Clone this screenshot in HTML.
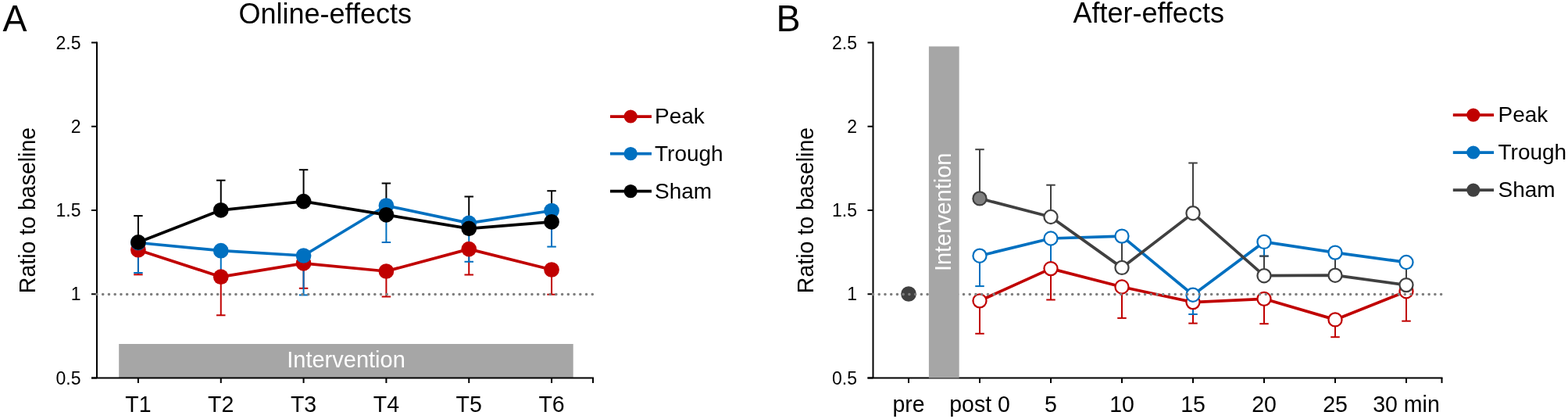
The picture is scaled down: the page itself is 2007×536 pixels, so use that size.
<!DOCTYPE html>
<html><head><meta charset="utf-8"><title>Online-effects and After-effects</title>
<style>html,body{margin:0;padding:0;background:#fff;}svg{display:block;}</style></head>
<body><svg width="2007" height="536" viewBox="0 0 2007 536" font-family="Liberation Sans, Arial, sans-serif" fill="#000">
<text transform="translate(3.5,39.6) scale(1,1.03)" font-size="46.5">A</text>
<text x="416.2" y="29.6" font-size="36" text-anchor="middle">Online-effects</text>
<rect x="152.2" y="440" width="581.5" height="43.5" fill="#A6A6A6"/>
<text x="443" y="469.7" font-size="29" text-anchor="middle" fill="#fff">Intervention</text>
<line x1="124.0" y1="53.5" x2="124.0" y2="483.5" stroke="#000" stroke-width="2.0"/>
<line x1="117.0" y1="483.5" x2="760.0" y2="483.5" stroke="#000" stroke-width="2.0"/>
<line x1="117.0" y1="483.50" x2="124.0" y2="483.50" stroke="#000" stroke-width="2.0"/>
<text x="103.5" y="491.73" font-size="23" text-anchor="end">0.5</text>
<line x1="117.0" y1="376.25" x2="124.0" y2="376.25" stroke="#000" stroke-width="2.0"/>
<text x="103.5" y="384.48" font-size="23" text-anchor="end">1</text>
<line x1="117.0" y1="269.00" x2="124.0" y2="269.00" stroke="#000" stroke-width="2.0"/>
<text x="103.5" y="277.23" font-size="23" text-anchor="end">1.5</text>
<line x1="117.0" y1="161.75" x2="124.0" y2="161.75" stroke="#000" stroke-width="2.0"/>
<text x="103.5" y="169.98" font-size="23" text-anchor="end">2</text>
<line x1="117.0" y1="54.50" x2="124.0" y2="54.50" stroke="#000" stroke-width="2.0"/>
<text x="103.5" y="62.73" font-size="23" text-anchor="end">2.5</text>
<line x1="176.91" y1="483.5" x2="176.91" y2="490.0" stroke="#000" stroke-width="2.0"/>
<line x1="282.75" y1="483.5" x2="282.75" y2="490.0" stroke="#000" stroke-width="2.0"/>
<line x1="388.57" y1="483.5" x2="388.57" y2="490.0" stroke="#000" stroke-width="2.0"/>
<line x1="494.40" y1="483.5" x2="494.40" y2="490.0" stroke="#000" stroke-width="2.0"/>
<line x1="600.24" y1="483.5" x2="600.24" y2="490.0" stroke="#000" stroke-width="2.0"/>
<line x1="706.06" y1="483.5" x2="706.06" y2="490.0" stroke="#000" stroke-width="2.0"/>
<line x1="759.0" y1="483.5" x2="759.0" y2="490.0" stroke="#000" stroke-width="2.0"/>
<text transform="translate(176.91,526.6) scale(1,1.05)" font-size="28.5" text-anchor="middle">T1</text>
<text transform="translate(282.75,526.6) scale(1,1.05)" font-size="28.5" text-anchor="middle">T2</text>
<text transform="translate(388.57,526.6) scale(1,1.05)" font-size="28.5" text-anchor="middle">T3</text>
<text transform="translate(494.40,526.6) scale(1,1.05)" font-size="28.5" text-anchor="middle">T4</text>
<text transform="translate(600.24,526.6) scale(1,1.05)" font-size="28.5" text-anchor="middle">T5</text>
<text transform="translate(706.06,526.6) scale(1,1.05)" font-size="28.5" text-anchor="middle">T6</text>
<text transform="translate(44.6,269.0) rotate(-90) scale(1,1.05)" x="0" y="0" font-size="28.5" text-anchor="middle">Ratio to baseline</text>
<line x1="176.91" y1="319.70" x2="176.91" y2="351.30" stroke="#C00000" stroke-width="2.0"/>
<line x1="171.16" y1="351.30" x2="182.66" y2="351.30" stroke="#C00000" stroke-width="2.0"/>
<line x1="282.75" y1="354.20" x2="282.75" y2="403.30" stroke="#C00000" stroke-width="2.0"/>
<line x1="277.00" y1="403.30" x2="288.50" y2="403.30" stroke="#C00000" stroke-width="2.0"/>
<line x1="388.57" y1="336.80" x2="388.57" y2="368.80" stroke="#C00000" stroke-width="2.0"/>
<line x1="382.82" y1="368.80" x2="394.32" y2="368.80" stroke="#C00000" stroke-width="2.0"/>
<line x1="494.40" y1="347.00" x2="494.40" y2="379.50" stroke="#C00000" stroke-width="2.0"/>
<line x1="488.65" y1="379.50" x2="500.15" y2="379.50" stroke="#C00000" stroke-width="2.0"/>
<line x1="600.24" y1="318.60" x2="600.24" y2="351.50" stroke="#C00000" stroke-width="2.0"/>
<line x1="594.49" y1="351.50" x2="605.99" y2="351.50" stroke="#C00000" stroke-width="2.0"/>
<line x1="706.06" y1="345.00" x2="706.06" y2="376.70" stroke="#C00000" stroke-width="2.0"/>
<line x1="700.31" y1="376.70" x2="711.81" y2="376.70" stroke="#C00000" stroke-width="2.0"/>
<line x1="176.91" y1="310.50" x2="176.91" y2="349.00" stroke="#0070C0" stroke-width="2.0"/>
<line x1="171.16" y1="349.00" x2="182.66" y2="349.00" stroke="#0070C0" stroke-width="2.0"/>
<line x1="282.75" y1="320.70" x2="282.75" y2="352.00" stroke="#0070C0" stroke-width="2.0"/>
<line x1="277.00" y1="352.00" x2="288.50" y2="352.00" stroke="#0070C0" stroke-width="2.0"/>
<line x1="388.57" y1="327.00" x2="388.57" y2="377.40" stroke="#0070C0" stroke-width="2.0"/>
<line x1="382.82" y1="377.40" x2="394.32" y2="377.40" stroke="#0070C0" stroke-width="2.0"/>
<line x1="494.40" y1="263.00" x2="494.40" y2="310.00" stroke="#0070C0" stroke-width="2.0"/>
<line x1="488.65" y1="310.00" x2="500.15" y2="310.00" stroke="#0070C0" stroke-width="2.0"/>
<line x1="600.24" y1="285.40" x2="600.24" y2="334.80" stroke="#0070C0" stroke-width="2.0"/>
<line x1="594.49" y1="334.80" x2="605.99" y2="334.80" stroke="#0070C0" stroke-width="2.0"/>
<line x1="706.06" y1="269.50" x2="706.06" y2="315.60" stroke="#0070C0" stroke-width="2.0"/>
<line x1="700.31" y1="315.60" x2="711.81" y2="315.60" stroke="#0070C0" stroke-width="2.0"/>
<line x1="176.91" y1="309.90" x2="176.91" y2="276.10" stroke="#000000" stroke-width="2.0"/>
<line x1="171.16" y1="276.10" x2="182.66" y2="276.10" stroke="#000000" stroke-width="2.0"/>
<line x1="282.75" y1="268.80" x2="282.75" y2="230.70" stroke="#000000" stroke-width="2.0"/>
<line x1="277.00" y1="230.70" x2="288.50" y2="230.70" stroke="#000000" stroke-width="2.0"/>
<line x1="388.57" y1="257.60" x2="388.57" y2="217.20" stroke="#000000" stroke-width="2.0"/>
<line x1="382.82" y1="217.20" x2="394.32" y2="217.20" stroke="#000000" stroke-width="2.0"/>
<line x1="494.40" y1="274.80" x2="494.40" y2="234.50" stroke="#000000" stroke-width="2.0"/>
<line x1="488.65" y1="234.50" x2="500.15" y2="234.50" stroke="#000000" stroke-width="2.0"/>
<line x1="600.24" y1="292.40" x2="600.24" y2="251.50" stroke="#000000" stroke-width="2.0"/>
<line x1="594.49" y1="251.50" x2="605.99" y2="251.50" stroke="#000000" stroke-width="2.0"/>
<line x1="706.06" y1="283.80" x2="706.06" y2="244.20" stroke="#000000" stroke-width="2.0"/>
<line x1="700.31" y1="244.20" x2="711.81" y2="244.20" stroke="#000000" stroke-width="2.0"/>
<polyline points="176.91,319.70 282.75,354.20 388.57,336.80 494.40,347.00 600.24,318.60 706.06,345.00" fill="none" stroke="#C00000" stroke-width="3.75" stroke-linejoin="round"/>
<polyline points="176.91,310.50 282.75,320.70 388.57,327.00 494.40,263.00 600.24,285.40 706.06,269.50" fill="none" stroke="#0070C0" stroke-width="3.75" stroke-linejoin="round"/>
<polyline points="176.91,309.90 282.75,268.80 388.57,257.60 494.40,274.80 600.24,292.40 706.06,283.80" fill="none" stroke="#000000" stroke-width="3.75" stroke-linejoin="round"/>
<circle cx="176.91" cy="319.70" r="9.85" fill="#C00000"/>
<circle cx="282.75" cy="354.20" r="9.85" fill="#C00000"/>
<circle cx="388.57" cy="336.80" r="9.85" fill="#C00000"/>
<circle cx="494.40" cy="347.00" r="9.85" fill="#C00000"/>
<circle cx="600.24" cy="318.60" r="9.85" fill="#C00000"/>
<circle cx="706.06" cy="345.00" r="9.85" fill="#C00000"/>
<circle cx="176.91" cy="310.50" r="9.85" fill="#0070C0"/>
<circle cx="282.75" cy="320.70" r="9.85" fill="#0070C0"/>
<circle cx="388.57" cy="327.00" r="9.85" fill="#0070C0"/>
<circle cx="494.40" cy="263.00" r="9.85" fill="#0070C0"/>
<circle cx="600.24" cy="285.40" r="9.85" fill="#0070C0"/>
<circle cx="706.06" cy="269.50" r="9.85" fill="#0070C0"/>
<circle cx="176.91" cy="309.90" r="9.85" fill="#000000"/>
<circle cx="282.75" cy="268.80" r="9.85" fill="#000000"/>
<circle cx="388.57" cy="257.60" r="9.85" fill="#000000"/>
<circle cx="494.40" cy="274.80" r="9.85" fill="#000000"/>
<circle cx="600.24" cy="292.40" r="9.85" fill="#000000"/>
<circle cx="706.06" cy="283.80" r="9.85" fill="#000000"/>
<line x1="124.0" y1="376.55" x2="759" y2="376.55" stroke="#7F7F7F" stroke-width="3.6" stroke-linecap="round" stroke-dasharray="0 7.735"/>
<line x1="781" y1="149.0" x2="834" y2="149.0" stroke="#C00000" stroke-width="3.75"/>
<circle cx="807.2" cy="149.0" r="8.6" fill="#C00000"/>
<text x="838.0" y="158.02" font-size="28">Peak</text>
<line x1="781" y1="196.7" x2="834" y2="196.7" stroke="#0070C0" stroke-width="3.75"/>
<circle cx="807.2" cy="196.7" r="8.6" fill="#0070C0"/>
<text x="838.0" y="205.72" font-size="28">Trough</text>
<line x1="781" y1="244.6" x2="834" y2="244.6" stroke="#000000" stroke-width="3.75"/>
<circle cx="807.2" cy="244.6" r="8.6" fill="#000000"/>
<text x="838.0" y="253.62" font-size="28">Sham</text>
<text transform="translate(993.6,40.0) scale(1,1.03)" font-size="46.5">B</text>
<text x="1470.2" y="29.4" font-size="36" text-anchor="middle">After-effects</text>
<line x1="1117.5" y1="53.5" x2="1117.5" y2="483.5" stroke="#000" stroke-width="2.0"/>
<line x1="1110.5" y1="483.5" x2="1846.5" y2="483.5" stroke="#000" stroke-width="2.0"/>
<line x1="1110.5" y1="483.50" x2="1117.5" y2="483.50" stroke="#000" stroke-width="2.0"/>
<text x="1097.0" y="491.73" font-size="23" text-anchor="end">0.5</text>
<line x1="1110.5" y1="376.25" x2="1117.5" y2="376.25" stroke="#000" stroke-width="2.0"/>
<text x="1097.0" y="384.48" font-size="23" text-anchor="end">1</text>
<line x1="1110.5" y1="269.00" x2="1117.5" y2="269.00" stroke="#000" stroke-width="2.0"/>
<text x="1097.0" y="277.23" font-size="23" text-anchor="end">1.5</text>
<line x1="1110.5" y1="161.75" x2="1117.5" y2="161.75" stroke="#000" stroke-width="2.0"/>
<text x="1097.0" y="169.98" font-size="23" text-anchor="end">2</text>
<line x1="1110.5" y1="54.50" x2="1117.5" y2="54.50" stroke="#000" stroke-width="2.0"/>
<text x="1097.0" y="62.73" font-size="23" text-anchor="end">2.5</text>
<line x1="1163.00" y1="483.5" x2="1163.00" y2="490.0" stroke="#000" stroke-width="2.0"/>
<line x1="1254.00" y1="483.5" x2="1254.00" y2="490.0" stroke="#000" stroke-width="2.0"/>
<line x1="1345.00" y1="483.5" x2="1345.00" y2="490.0" stroke="#000" stroke-width="2.0"/>
<line x1="1436.00" y1="483.5" x2="1436.00" y2="490.0" stroke="#000" stroke-width="2.0"/>
<line x1="1527.00" y1="483.5" x2="1527.00" y2="490.0" stroke="#000" stroke-width="2.0"/>
<line x1="1618.00" y1="483.5" x2="1618.00" y2="490.0" stroke="#000" stroke-width="2.0"/>
<line x1="1709.00" y1="483.5" x2="1709.00" y2="490.0" stroke="#000" stroke-width="2.0"/>
<line x1="1800.00" y1="483.5" x2="1800.00" y2="490.0" stroke="#000" stroke-width="2.0"/>
<line x1="1845.5" y1="483.5" x2="1845.5" y2="490.0" stroke="#000" stroke-width="2.0"/>
<text transform="translate(1163.00,526.6) scale(1,1.05)" font-size="28.5" text-anchor="middle">pre</text>
<text transform="translate(1254.00,526.6) scale(1,1.05)" font-size="28.5" text-anchor="middle">post 0</text>
<text transform="translate(1345.00,526.6) scale(1,1.05)" font-size="28.5" text-anchor="middle">5</text>
<text transform="translate(1436.00,526.6) scale(1,1.05)" font-size="28.5" text-anchor="middle">10</text>
<text transform="translate(1527.00,526.6) scale(1,1.05)" font-size="28.5" text-anchor="middle">15</text>
<text transform="translate(1618.00,526.6) scale(1,1.05)" font-size="28.5" text-anchor="middle">20</text>
<text transform="translate(1709.00,526.6) scale(1,1.05)" font-size="28.5" text-anchor="middle">25</text>
<text transform="translate(1800.00,526.6) scale(1,1.05)" font-size="28.5" text-anchor="middle">30 min</text>
<text transform="translate(1040.5,269.0) rotate(-90) scale(1,1.05)" x="0" y="0" font-size="28.5" text-anchor="middle">Ratio to baseline</text>
<line x1="1254.00" y1="384.80" x2="1254.00" y2="426.80" stroke="#C00000" stroke-width="2.0"/>
<line x1="1248.25" y1="426.80" x2="1259.75" y2="426.80" stroke="#C00000" stroke-width="2.0"/>
<line x1="1345.00" y1="343.60" x2="1345.00" y2="383.50" stroke="#C00000" stroke-width="2.0"/>
<line x1="1339.25" y1="383.50" x2="1350.75" y2="383.50" stroke="#C00000" stroke-width="2.0"/>
<line x1="1436.00" y1="367.00" x2="1436.00" y2="406.90" stroke="#C00000" stroke-width="2.0"/>
<line x1="1430.25" y1="406.90" x2="1441.75" y2="406.90" stroke="#C00000" stroke-width="2.0"/>
<line x1="1527.00" y1="386.60" x2="1527.00" y2="413.60" stroke="#C00000" stroke-width="2.0"/>
<line x1="1521.25" y1="413.60" x2="1532.75" y2="413.60" stroke="#C00000" stroke-width="2.0"/>
<line x1="1618.00" y1="382.30" x2="1618.00" y2="414.20" stroke="#C00000" stroke-width="2.0"/>
<line x1="1612.25" y1="414.20" x2="1623.75" y2="414.20" stroke="#C00000" stroke-width="2.0"/>
<line x1="1709.00" y1="408.90" x2="1709.00" y2="431.20" stroke="#C00000" stroke-width="2.0"/>
<line x1="1703.25" y1="431.20" x2="1714.75" y2="431.20" stroke="#C00000" stroke-width="2.0"/>
<line x1="1800.00" y1="372.70" x2="1800.00" y2="410.70" stroke="#C00000" stroke-width="2.0"/>
<line x1="1794.25" y1="410.70" x2="1805.75" y2="410.70" stroke="#C00000" stroke-width="2.0"/>
<line x1="1254.00" y1="327.20" x2="1254.00" y2="366.10" stroke="#0070C0" stroke-width="2.0"/>
<line x1="1248.25" y1="366.10" x2="1259.75" y2="366.10" stroke="#0070C0" stroke-width="2.0"/>
<line x1="1345.00" y1="305.00" x2="1345.00" y2="345.00" stroke="#0070C0" stroke-width="2.0"/>
<line x1="1339.25" y1="345.00" x2="1350.75" y2="345.00" stroke="#0070C0" stroke-width="2.0"/>
<line x1="1436.00" y1="302.10" x2="1436.00" y2="340.00" stroke="#0070C0" stroke-width="2.0"/>
<line x1="1430.25" y1="340.00" x2="1441.75" y2="340.00" stroke="#0070C0" stroke-width="2.0"/>
<line x1="1527.00" y1="377.20" x2="1527.00" y2="402.00" stroke="#0070C0" stroke-width="2.0"/>
<line x1="1521.25" y1="402.00" x2="1532.75" y2="402.00" stroke="#0070C0" stroke-width="2.0"/>
<line x1="1618.00" y1="309.40" x2="1618.00" y2="327.60" stroke="#0070C0" stroke-width="2.0"/>
<line x1="1612.25" y1="327.60" x2="1623.75" y2="327.60" stroke="#0070C0" stroke-width="2.0"/>
<line x1="1709.00" y1="323.10" x2="1709.00" y2="347.00" stroke="#0070C0" stroke-width="2.0"/>
<line x1="1703.25" y1="347.00" x2="1714.75" y2="347.00" stroke="#0070C0" stroke-width="2.0"/>
<line x1="1800.00" y1="335.50" x2="1800.00" y2="360.00" stroke="#0070C0" stroke-width="2.0"/>
<line x1="1794.25" y1="360.00" x2="1805.75" y2="360.00" stroke="#0070C0" stroke-width="2.0"/>
<line x1="1254.00" y1="253.90" x2="1254.00" y2="191.20" stroke="#404040" stroke-width="2.0"/>
<line x1="1248.25" y1="191.20" x2="1259.75" y2="191.20" stroke="#404040" stroke-width="2.0"/>
<line x1="1345.00" y1="277.50" x2="1345.00" y2="236.70" stroke="#404040" stroke-width="2.0"/>
<line x1="1339.25" y1="236.70" x2="1350.75" y2="236.70" stroke="#404040" stroke-width="2.0"/>
<line x1="1436.00" y1="342.40" x2="1436.00" y2="300.00" stroke="#404040" stroke-width="2.0"/>
<line x1="1430.25" y1="300.00" x2="1441.75" y2="300.00" stroke="#404040" stroke-width="2.0"/>
<line x1="1527.00" y1="272.70" x2="1527.00" y2="208.50" stroke="#404040" stroke-width="2.0"/>
<line x1="1521.25" y1="208.50" x2="1532.75" y2="208.50" stroke="#404040" stroke-width="2.0"/>
<line x1="1618.00" y1="352.70" x2="1618.00" y2="327.60" stroke="#404040" stroke-width="2.0"/>
<line x1="1612.25" y1="327.60" x2="1623.75" y2="327.60" stroke="#404040" stroke-width="2.0"/>
<line x1="1709.00" y1="352.20" x2="1709.00" y2="330.00" stroke="#404040" stroke-width="2.0"/>
<line x1="1703.25" y1="330.00" x2="1714.75" y2="330.00" stroke="#404040" stroke-width="2.0"/>
<line x1="1800.00" y1="364.60" x2="1800.00" y2="338.00" stroke="#404040" stroke-width="2.0"/>
<line x1="1794.25" y1="338.00" x2="1805.75" y2="338.00" stroke="#404040" stroke-width="2.0"/>
<polyline points="1254.00,384.80 1345.00,343.60 1436.00,367.00 1527.00,386.60 1618.00,382.30 1709.00,408.90 1800.00,372.70" fill="none" stroke="#C00000" stroke-width="3.75" stroke-linejoin="round"/>
<polyline points="1254.00,327.20 1345.00,305.00 1436.00,302.10 1527.00,377.20 1618.00,309.40 1709.00,323.10 1800.00,335.50" fill="none" stroke="#0070C0" stroke-width="3.75" stroke-linejoin="round"/>
<polyline points="1254.00,253.90 1345.00,277.50 1436.00,342.40 1527.00,272.70 1618.00,352.70 1709.00,352.20 1800.00,364.60" fill="none" stroke="#404040" stroke-width="3.75" stroke-linejoin="round"/>
<circle cx="1254.00" cy="384.80" r="8.55" fill="#fff" stroke="#C00000" stroke-width="2.25"/>
<circle cx="1345.00" cy="343.60" r="8.55" fill="#fff" stroke="#C00000" stroke-width="2.25"/>
<circle cx="1436.00" cy="367.00" r="8.55" fill="#fff" stroke="#C00000" stroke-width="2.25"/>
<circle cx="1527.00" cy="386.60" r="8.55" fill="#fff" stroke="#C00000" stroke-width="2.25"/>
<circle cx="1618.00" cy="382.30" r="8.55" fill="#fff" stroke="#C00000" stroke-width="2.25"/>
<circle cx="1709.00" cy="408.90" r="8.55" fill="#fff" stroke="#C00000" stroke-width="2.25"/>
<circle cx="1800.00" cy="372.70" r="8.55" fill="#fff" stroke="#C00000" stroke-width="2.25"/>
<circle cx="1254.00" cy="327.20" r="8.55" fill="#fff" stroke="#0070C0" stroke-width="2.25"/>
<circle cx="1345.00" cy="305.00" r="8.55" fill="#fff" stroke="#0070C0" stroke-width="2.25"/>
<circle cx="1436.00" cy="302.10" r="8.55" fill="#fff" stroke="#0070C0" stroke-width="2.25"/>
<circle cx="1527.00" cy="377.20" r="8.55" fill="#fff" stroke="#0070C0" stroke-width="2.25"/>
<circle cx="1618.00" cy="309.40" r="8.55" fill="#fff" stroke="#0070C0" stroke-width="2.25"/>
<circle cx="1709.00" cy="323.10" r="8.55" fill="#fff" stroke="#0070C0" stroke-width="2.25"/>
<circle cx="1800.00" cy="335.50" r="8.55" fill="#fff" stroke="#0070C0" stroke-width="2.25"/>
<circle cx="1254.00" cy="253.90" r="8.55" fill="#808080" stroke="#404040" stroke-width="2.25"/>
<circle cx="1345.00" cy="277.50" r="8.55" fill="#fff" stroke="#404040" stroke-width="2.25"/>
<circle cx="1436.00" cy="342.40" r="8.55" fill="#fff" stroke="#404040" stroke-width="2.25"/>
<circle cx="1527.00" cy="272.70" r="8.55" fill="#fff" stroke="#404040" stroke-width="2.25"/>
<circle cx="1618.00" cy="352.70" r="8.55" fill="#fff" stroke="#404040" stroke-width="2.25"/>
<circle cx="1709.00" cy="352.20" r="8.55" fill="#fff" stroke="#404040" stroke-width="2.25"/>
<circle cx="1800.00" cy="364.60" r="8.55" fill="#fff" stroke="#404040" stroke-width="2.25"/>
<circle cx="1163.00" cy="376.00" r="9.85" fill="#404040"/>
<line x1="1117.5" y1="376.55" x2="1845.5" y2="376.55" stroke="#7F7F7F" stroke-width="3.6" stroke-linecap="round" stroke-dasharray="0 7.735"/>
<rect x="1188.9" y="59.4" width="38.799999999999955" height="424.1" fill="#A6A6A6"/>
<text transform="translate(1216.8,271.3) rotate(-90)" x="0" y="0" font-size="29" text-anchor="middle" fill="#fff">Intervention</text>
<line x1="1859.8" y1="147.1" x2="1912.1" y2="147.1" stroke="#C00000" stroke-width="3.75"/>
<circle cx="1885.8" cy="147.1" r="8.6" fill="#C00000"/>
<text x="1917.5" y="156.12" font-size="28">Peak</text>
<line x1="1859.8" y1="195.0" x2="1912.1" y2="195.0" stroke="#0070C0" stroke-width="3.75"/>
<circle cx="1885.8" cy="195.0" r="8.6" fill="#0070C0"/>
<text x="1917.5" y="204.02" font-size="28">Trough</text>
<line x1="1859.8" y1="243.1" x2="1912.1" y2="243.1" stroke="#404040" stroke-width="3.75"/>
<circle cx="1885.8" cy="243.1" r="8.6" fill="#404040"/>
<text x="1917.5" y="252.12" font-size="28">Sham</text>
</svg></body></html>
